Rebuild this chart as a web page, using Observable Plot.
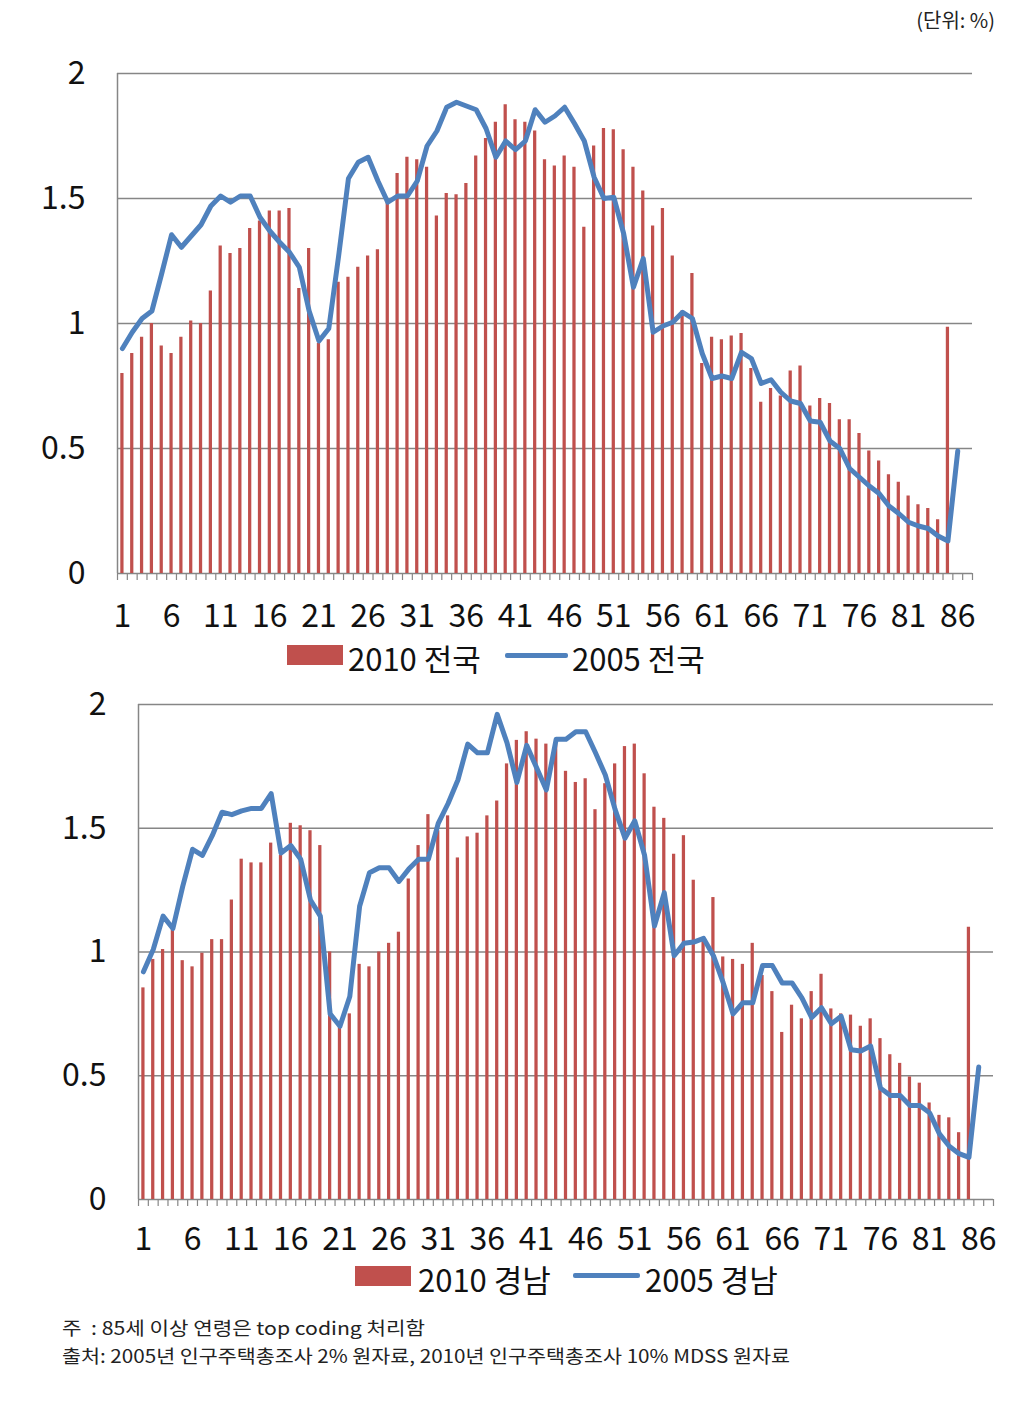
<!DOCTYPE html>
<html><head><meta charset="utf-8">
<script src="https://cdn.jsdelivr.net/npm/d3@7"></script>
<script src="https://cdn.jsdelivr.net/npm/@observablehq/plot@0.6"></script>
<style>
body{margin:0;background:#fff;}
#page{position:relative;width:1036px;height:1409px;overflow:hidden;background:#fff;font-family:"Noto Sans CJK KR",sans-serif;color:#111;}
.abs{position:absolute;}
.chart{position:absolute;left:0;}
.legtxt{position:absolute;font-family:"Liberation Sans Narrow","Noto Sans CJK KR",sans-serif;font-size:31px;line-height:1;white-space:nowrap;color:#111;}
.note{position:absolute;left:62px;font-size:18px;line-height:1;white-space:nowrap;color:#222;transform-origin:left center;}
</style>
</head><body>
<div id="page">
  <div class="abs" style="right:41px;top:10px;font-size:20px;line-height:1;color:#222;">(단위: %)</div>
  <div class="chart" id="top" style="top:40px;"></div>
  <div class="chart" id="bottom" style="top:670px;"></div>

  <div class="abs" style="left:287px;top:645px;width:56px;height:20px;background:#C0504D;"></div>
  <div class="legtxt" style="left:348px;top:642px;">2010 전국</div>
  <div class="abs" style="left:505px;top:653px;width:63px;height:5px;background:#4F81BD;border-radius:2px;"></div>
  <div class="legtxt" style="left:572px;top:642px;">2005 전국</div>

  <div class="abs" style="left:355px;top:1266px;width:56px;height:20px;background:#C0504D;"></div>
  <div class="legtxt" style="left:418px;top:1263px;">2010 경남</div>
  <div class="abs" style="left:573px;top:1273px;width:67px;height:5px;background:#4F81BD;border-radius:2px;"></div>
  <div class="legtxt" style="left:645px;top:1263px;">2005 경남</div>

  <div class="note" id="n1" style="top:1318px;">주&nbsp;&nbsp;: 85세 이상 연령은 top coding 처리함</div>
  <div class="note" id="n2" style="top:1346px;">출처: 2005년 인구주택총조사 2% 원자료, 2010년 인구주택총조사 10% MDSS 원자료</div>
</div>
<script>
// ---- data ----
const categories = d3.range(1, 88);           // category slots on the axis
const xTickLabels = [1, 6, 11, 16, 21, 26, 31, 36, 41, 46, 51, 56, 61, 66, 71, 76, 81, 86];
const yTicks = [0, 0.5, 1, 1.5, 2];

// 2010 전국 (ages 1..85)
const nat2010 = [0.80,0.88,0.945,1.00,0.91,0.88,0.945,1.01,1.00,1.13,
  1.31,1.28,1.30,1.38,1.41,1.45,1.45,1.46,1.14,1.30,
  0.92,0.935,1.165,1.185,1.225,1.27,1.295,1.49,1.60,1.665,
  1.655,1.625,1.43,1.52,1.515,1.56,1.67,1.74,1.805,1.875,
  1.815,1.805,1.77,1.655,1.63,1.67,1.625,1.385,1.71,1.78,
  1.775,1.695,1.625,1.53,1.39,1.46,1.27,1.05,1.20,0.84,
  0.945,0.935,0.95,0.96,0.82,0.685,0.74,0.71,0.81,0.83,
  0.67,0.70,0.68,0.615,0.615,0.56,0.49,0.45,0.395,0.365,
  0.31,0.275,0.26,0.215,0.985];
// 2005 전국 (ages 1..86)
const nat2005 = [0.90,0.965,1.02,1.05,1.20,1.355,1.305,1.35,1.395,1.47,
  1.51,1.485,1.51,1.51,1.425,1.37,1.325,1.285,1.225,1.05,
  0.93,0.98,1.27,1.58,1.645,1.665,1.57,1.485,1.51,1.51,
  1.57,1.71,1.77,1.865,1.885,1.87,1.855,1.78,1.665,1.73,
  1.695,1.73,1.855,1.805,1.83,1.865,1.80,1.73,1.585,1.50,
  1.505,1.36,1.145,1.26,0.965,0.99,1.005,1.045,1.02,0.88,
  0.78,0.79,0.78,0.885,0.86,0.76,0.775,0.725,0.69,0.68,
  0.61,0.605,0.53,0.50,0.42,0.385,0.35,0.32,0.27,0.24,
  0.205,0.19,0.18,0.15,0.13,0.49];
// 2010 경남 (ages 1..85)
const gn2010 = [0.855,0.97,1.01,1.09,0.965,0.94,0.995,1.05,1.05,1.21,
  1.375,1.36,1.36,1.44,1.39,1.52,1.51,1.49,1.43,1.00,
  0.70,0.75,0.95,0.94,1.00,1.035,1.08,1.295,1.43,1.555,
  1.49,1.55,1.38,1.465,1.48,1.55,1.61,1.76,1.855,1.89,
  1.86,1.84,1.84,1.73,1.685,1.70,1.575,1.68,1.76,1.83,
  1.84,1.72,1.585,1.54,1.395,1.47,1.29,1.05,1.22,0.98,
  0.97,0.95,1.035,0.905,0.84,0.675,0.785,0.73,0.84,0.91,
  0.77,0.75,0.745,0.70,0.73,0.65,0.585,0.55,0.495,0.47,
  0.39,0.34,0.33,0.27,1.10];
// 2005 경남 (ages 1..86)
const gn2005 = [0.92,1.01,1.145,1.095,1.265,1.415,1.39,1.47,1.565,1.555,
  1.57,1.58,1.58,1.64,1.40,1.43,1.375,1.21,1.145,0.75,
  0.70,0.82,1.185,1.32,1.34,1.34,1.285,1.335,1.375,1.375,
  1.52,1.60,1.695,1.84,1.805,1.805,1.96,1.845,1.685,1.835,
  1.745,1.655,1.86,1.86,1.89,1.89,1.805,1.715,1.575,1.46,
  1.53,1.39,1.105,1.24,0.985,1.035,1.04,1.055,0.985,0.875,
  0.75,0.795,0.795,0.945,0.945,0.875,0.875,0.815,0.735,0.775,
  0.71,0.74,0.605,0.60,0.62,0.45,0.42,0.42,0.38,0.38,
  0.35,0.265,0.215,0.185,0.17,0.535];

const FONT = '"Liberation Sans Narrow","Noto Sans CJK KR",sans-serif';

function chart({bars, line, height, marginTop, marginBottom, marginLeft, marginRight, labelDy}) {
  const barData = bars.map((v, i) => ({age: i + 1, value: v}));
  const lineData = line.map((v, i) => ({age: i + 1, value: v}));
  const step = (1036 - marginLeft - marginRight) / categories.length;
  return Plot.plot({
    width: 1036, height, marginTop, marginBottom, marginLeft, marginRight,
    x: {type: "band", domain: categories, paddingInner: 0.67, paddingOuter: 0.335, axis: null},
    y: {domain: [0, 2], axis: null},
    style: {fontFamily: FONT, fontSize: "32px", color: "#111", background: "transparent", overflow: "visible"},
    marks: [
      Plot.ruleY(yTicks, {y: d => d, stroke: "#868686", strokeWidth: 1.5, strokeOpacity: 1}),
      Plot.ruleX([categories[0]], {x: d => d, y1: 0, y2: 2, dx: -step / 2, stroke: "#868686", strokeWidth: 1.5}),
      Plot.ruleX(categories, {x: d => d, y1: 0, y2: 0, dx: -step / 2, insetBottom: -7, stroke: "#868686", strokeWidth: 1.2}),
      Plot.ruleX([categories[categories.length - 1]], {x: d => d, y1: 0, y2: 0, dx: step / 2, insetBottom: -7, stroke: "#868686", strokeWidth: 1.2}),
      Plot.barY(barData, {x: "age", y: "value", fill: "#C0504D"}),
      Plot.line(lineData, {x: "age", y: "value", stroke: "#4F81BD", strokeWidth: 5, strokeLinejoin: "round", strokeLinecap: "round"}),
      Plot.text(xTickLabels, {x: d => d, y: 0, dy: labelDy, text: d => String(d), fill: "#111"}),
      Plot.text(yTicks, {y: d => d, frameAnchor: "left", dx: -32, textAnchor: "end", text: d => String(d), fill: "#111"})
    ]
  });
}

document.getElementById("top").append(chart({
  bars: nat2010, line: nat2005, height: 600,
  marginTop: 33, marginBottom: 67, marginLeft: 117, marginRight: 64, labelDy: 43
}));
document.getElementById("bottom").append(chart({
  bars: gn2010, line: gn2005, height: 600,
  marginTop: 34, marginBottom: 71, marginLeft: 138, marginRight: 43, labelDy: 40
}));

// fit footnotes to the reference widths
function fit(id, w) {
  const el = document.getElementById(id);
  const cur = el.getBoundingClientRect().width;
  if (cur > 0) el.style.transform = `scaleX(${w / cur})`;
}
fit("n1", 363);
fit("n2", 728);
</script>
</body></html>
